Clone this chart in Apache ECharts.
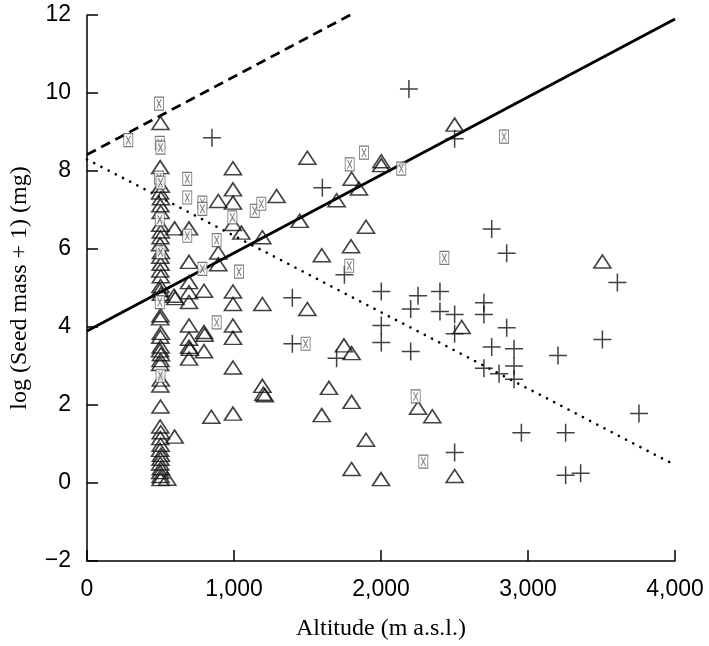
<!DOCTYPE html>
<html>
<head>
<meta charset="utf-8">
<script src="https://cdn.jsdelivr.net/npm/echarts@6/dist/echarts.min.js"></script>
<style>html,body{margin:0;padding:0;background:#fff}#c{width:709px;height:646px}</style>
</head>
<body>
<div id="c"></div>
<script>
// x-axis ticks and y-axis ticks
const xTicks = [0, 1000, 2000, 3000, 4000];
const yTicks = [-2, 0, 2, 4, 6, 8, 10, 12];

// Triangles (open)
const triangles = [
  [500,9.23],[498,8.1],[502,7.62],[497,7.45],[503,7.3],[499,7.12],[501,6.95],[498,6.62],[502,6.45],[500,6.3],
  [497,6.12],[503,5.92],[499,5.8],[501,5.62],[498,5.45],[502,5.3],[500,5.05],[497,4.95],[503,4.85],[500,4.3],
  [498,4.22],[502,3.85],[499,3.75],[501,3.5],[497,3.4],[503,3.3],[500,3.15],[498,3.05],[502,2.65],[499,2.5],
  [500,1.96],[498,1.45],[502,1.3],[499,1.15],[501,0.98],[497,0.85],[503,0.72],[500,0.62],[498,0.5],[502,0.38],
  [499,0.28],[501,0.18],[500,0.1],
  [546,0.11],[596,6.53],[596,1.19],[592,4.8],[600,4.74],
  [694,6.53],[694,5.67],[694,5.15],[694,4.89],[694,4.64],[694,4.04],[694,3.7],[694,3.49],[700,3.44],[694,3.19],
  [796,4.93],[796,3.87],[800,3.8],[796,3.38],[846,1.7],
  [893,7.23],[893,5.91],[893,5.61],
  [993,8.07],[993,7.53],[993,7.19],[993,6.64],[993,4.91],[993,4.59],[993,4.04],[993,3.72],[993,2.96],[993,1.78],
  [1050,6.42],[1193,6.3],[1193,4.59],[1193,2.49],[1200,2.29],[1210,2.25],
  [1290,7.36],[1447,6.72],[1499,8.34],[1499,4.46],[1597,5.84],[1597,1.74],[1646,2.44],[1698,7.25],[1748,3.53],
  [1796,6.07],[1800,7.8],[1800,3.33],[1800,2.08],[1800,0.36],[1850,7.55],[1898,6.57],[1898,1.11],
  [2002,8.25],[2002,8.15],[2000,0.1],[2252,1.93],[2349,1.71],[2501,9.19],[2501,0.18],[2549,4.0],[3506,5.68]
];

// Crosses (+)
const crosses = [
  [850,8.85],[1397,4.75],[1397,3.57],[1601,7.57],[1698,3.2],[1751,5.34],[2002,4.91],[2002,4.04],[2002,3.6],
  [2190,10.1],[2202,4.46],[2202,3.37],[2252,4.8],[2401,4.91],[2401,4.4],[2501,8.83],[2501,4.32],[2501,3.83],
  [2501,0.78],[2700,4.62],[2700,4.32],[2700,2.94],[2753,6.51],[2753,3.49],[2803,2.8],[2855,5.89],[2855,3.98],
  [2905,3.44],[2905,3.0],[2905,2.66],[2955,1.29],[3204,3.27],[3256,1.29],[3256,0.2],[3358,0.25],[3506,3.68],
  [3608,5.14],[3755,1.78]
];

// Small boxed squares
const boxes = [
  [281,8.79],[490,9.73],[495,8.72],[500,8.6],[490,7.83],[500,7.7],[495,6.76],[500,5.92],[495,4.64],[500,2.75],
  [682,7.8],[682,7.32],[682,6.34],[785,7.19],[785,7.03],[785,5.49],[882,6.23],[882,4.12],[989,6.81],[1034,5.42],
  [1141,6.98],[1186,7.16],[1487,3.57],[1784,5.57],[1787,8.17],[1884,8.47],[2138,8.06],[2236,2.22],[2288,0.55],
  [2431,5.77],[2837,8.88]
];

// Fitted lines (endpoints in data units)
const solidLine = [[0,3.9],[4000,11.9]];
const dashedLine = [[0,8.42],[1790,12]];
const dottedLine = [[0,8.3],[3980,0.5]];

const chart = echarts.init(document.getElementById('c'), null, {renderer:'canvas'});
const tickFont = {fontFamily:'Liberation Sans, Arial, sans-serif', fontSize:23, color:'#000'};
const titleFont = {fontFamily:'Liberation Serif, Times New Roman, serif', fontSize:24, color:'#000'};

chart.setOption({
  animation:false,
  backgroundColor:'#fff',
  grid:{left:87, right:34, top:15, bottom:85},
  xAxis:{
    type:'value', min:0, max:4000, interval:1000,
    name:'Altitude (m a.s.l.)', nameLocation:'middle', nameGap:56, nameTextStyle:titleFont,
    axisLine:{show:true, onZero:false, lineStyle:{color:'#000', width:1.5}},
    axisTick:{show:true, inside:true, length:11, lineStyle:{color:'#000', width:1.5}},
    axisLabel:{...tickFont, margin:17, formatter:v=>v.toLocaleString('en-US')},
    splitLine:{show:false}
  },
  yAxis:{
    type:'value', min:-2, max:12, interval:2,
    name:'log (Seed mass + 1) (mg)', nameLocation:'middle', nameGap:55, nameTextStyle:titleFont,
    axisLine:{show:true, onZero:false, lineStyle:{color:'#000', width:1.5}},
    axisTick:{show:true, inside:true, length:11, lineStyle:{color:'#000', width:1.5}},
    axisLabel:{...tickFont, margin:16, formatter:v=> v<0 ? '\u2212'+Math.abs(v) : String(v)},
    splitLine:{show:false}
  },
  series:[
    {type:'line', data:solidLine, symbol:'none', silent:true, z:3,
     lineStyle:{color:'#000', width:2.8, type:'solid'}},
    {type:'line', data:dashedLine, symbol:'none', silent:true, z:3,
     lineStyle:{color:'#000', width:2.8, type:[10,6]}},
    {type:'line', data:dottedLine, symbol:'none', silent:true, z:3,
     lineStyle:{color:'#000', width:2.6, type:[0.1,8], cap:'round'}},
    {type:'scatter', data:triangles, symbol:'triangle', symbolSize:[17,13], silent:true, z:4,
     itemStyle:{color:'rgba(0,0,0,0)', borderColor:'#111', borderWidth:1.6}},
    {type:'scatter', data:crosses, symbol:'path://M0,8H16M8,0V16', symbolSize:[18,18], silent:true, z:4,
     itemStyle:{color:'rgba(0,0,0,0)', borderColor:'#111', borderWidth:1.5}},
    {type:'scatter', data:boxes, symbol:'path://M0,0H8V12H0Z M2,2L6,10 M6,2L2,10', symbolSize:[9,13], silent:true, z:4,
     itemStyle:{color:'#fff', borderColor:'#555', borderWidth:1}}
  ]
});
</script>
</body>
</html>
